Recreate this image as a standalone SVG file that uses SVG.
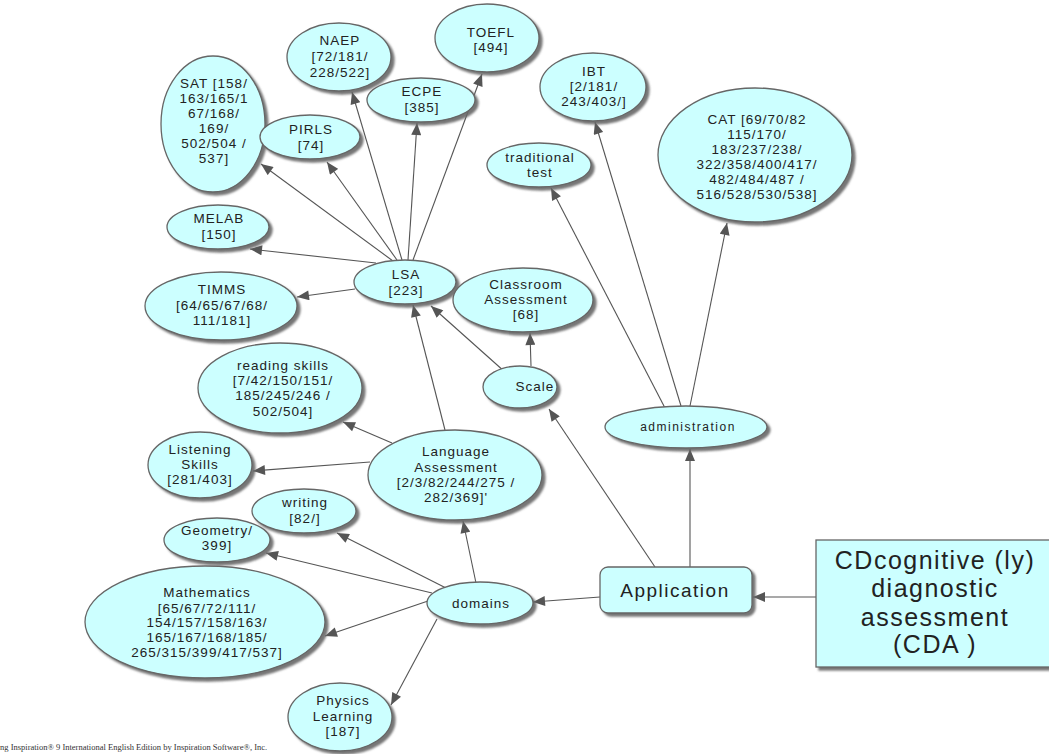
<svg xmlns="http://www.w3.org/2000/svg" width="1049" height="754" viewBox="0 0 1049 754">
<defs>
<filter id="sh" x="-10%" y="-10%" width="125%" height="125%">
<feDropShadow dx="3" dy="3" stdDeviation="0.8" flood-color="#666" flood-opacity="0.9"/>
</filter>
<marker id="a" viewBox="0 0 12 10" refX="12" refY="5" markerWidth="13" markerHeight="10" markerUnits="userSpaceOnUse" orient="auto">
<path d="M0,0 L12,5 L0,10 z" fill="#555"/>
</marker>
</defs>
<style>
.n{fill:#ccffff;stroke:#666;stroke-width:1.3;filter:url(#sh)}
.t{font-family:"Liberation Sans",Arial,sans-serif;font-size:13.5px;letter-spacing:1px;fill:#222;text-anchor:middle}
.c line{stroke:#555;stroke-width:1.1;marker-end:url(#a)}
</style>
<rect width="1049" height="754" fill="#fff"/>
<g class="c" id="connectors">
<line x1="393" y1="261" x2="261" y2="164"/>
<line x1="397" y1="260" x2="327" y2="162"/>
<line x1="402" y1="260" x2="352" y2="92"/>
<line x1="408" y1="260" x2="417" y2="123"/>
<line x1="413" y1="260" x2="482" y2="74"/>
<line x1="376" y1="263" x2="250" y2="249"/>
<line x1="355" y1="289" x2="297" y2="297"/>
<line x1="445" y1="430" x2="413" y2="305"/>
<line x1="505" y1="372" x2="431" y2="306"/>
<line x1="531" y1="366" x2="530" y2="333"/>
<line x1="655" y1="567" x2="549" y2="409"/>
<line x1="665" y1="408" x2="551" y2="188"/>
<line x1="681" y1="406" x2="595" y2="122"/>
<line x1="690" y1="406" x2="727" y2="223"/>
<line x1="690" y1="567" x2="690" y2="449"/>
<line x1="816" y1="597" x2="753" y2="597"/>
<line x1="600" y1="597" x2="533" y2="602"/>
<line x1="476" y1="583" x2="463" y2="521"/>
<line x1="446" y1="588" x2="337" y2="533"/>
<line x1="432" y1="593" x2="266" y2="553"/>
<line x1="428" y1="601" x2="325" y2="636"/>
<line x1="437" y1="619" x2="391" y2="705"/>
<line x1="392" y1="443" x2="343" y2="422"/>
<line x1="370" y1="462" x2="253" y2="471"/>
</g>
<g id="sat"><ellipse class="n" cx="213" cy="124" rx="52" ry="68"/>
<text class="t"><tspan x="214" y="88">SAT [158/</tspan><tspan x="214" y="103">163/165/1</tspan><tspan x="214" y="118">67/168/</tspan><tspan x="214" y="133">169/</tspan><tspan x="214" y="148">502/504 /</tspan><tspan x="214" y="163">537]</tspan></text></g>
<g id="naep"><ellipse class="n" cx="339" cy="57" rx="52" ry="34"/>
<text class="t"><tspan x="340" y="45">NAEP</tspan><tspan x="340" y="61">[72/181/</tspan><tspan x="340" y="77">228/522]</tspan></text></g>
<g id="toefl"><ellipse class="n" cx="487" cy="38" rx="52" ry="34"/>
<text class="t"><tspan x="491" y="37">TOEFL</tspan><tspan x="491" y="52">[494]</tspan></text></g>
<g id="ecpe"><ellipse class="n" cx="421" cy="100" rx="54" ry="22"/>
<text class="t"><tspan x="422" y="96">ECPE</tspan><tspan x="422" y="112">[385]</tspan></text></g>
<g id="pirls"><ellipse class="n" cx="310" cy="137" rx="50" ry="22"/>
<text class="t"><tspan x="311" y="134">PIRLS</tspan><tspan x="311" y="150">[74]</tspan></text></g>
<g id="ibt"><ellipse class="n" cx="593" cy="87" rx="53" ry="34"/>
<text class="t"><tspan x="594" y="76">IBT</tspan><tspan x="594" y="91">[2/181/</tspan><tspan x="594" y="106">243/403/]</tspan></text></g>
<g id="trad"><ellipse class="n" cx="539" cy="165" rx="52" ry="22"/>
<text class="t"><tspan x="540" y="162">traditional</tspan><tspan x="540" y="177">test</tspan></text></g>
<g id="cat"><ellipse class="n" cx="755" cy="155" rx="97" ry="67"/>
<text class="t"><tspan x="757" y="124">CAT [69/70/82</tspan><tspan x="757" y="139">115/170/</tspan><tspan x="757" y="154">183/237/238/</tspan><tspan x="757" y="169">322/358/400/417/</tspan><tspan x="757" y="184">482/484/487 /</tspan><tspan x="757" y="199">516/528/530/538]</tspan></text></g>
<g id="melab"><ellipse class="n" cx="218" cy="227" rx="51" ry="22"/>
<text class="t"><tspan x="219" y="223">MELAB</tspan><tspan x="219" y="239">[150]</tspan></text></g>
<g id="lsa"><ellipse class="n" cx="405" cy="282" rx="51" ry="22"/>
<text class="t"><tspan x="406" y="279">LSA</tspan><tspan x="406" y="295">[223]</tspan></text></g>
<g id="timms"><ellipse class="n" cx="221" cy="306" rx="76" ry="34"/>
<text class="t"><tspan x="222" y="294">TIMMS</tspan><tspan x="222" y="310">[64/65/67/68/</tspan><tspan x="222" y="325">111/181]</tspan></text></g>
<g id="classroom"><ellipse class="n" cx="523" cy="300" rx="70" ry="32"/>
<text class="t"><tspan x="526" y="289">Classroom</tspan><tspan x="526" y="304">Assessment</tspan><tspan x="526" y="319">[68]</tspan></text></g>
<g id="reading"><ellipse class="n" cx="280" cy="388" rx="82" ry="45"/>
<text class="t"><tspan x="283" y="370">reading skills</tspan><tspan x="283" y="385">[7/42/150/151/</tspan><tspan x="283" y="400">185/245/246 /</tspan><tspan x="283" y="416">502/504]</tspan></text></g>
<g id="scale"><ellipse class="n" cx="520" cy="387" rx="37" ry="21"/>
<text class="t"><tspan x="535" y="391">Scale</tspan></text></g>
<g id="listening"><ellipse class="n" cx="200" cy="465" rx="52" ry="33"/>
<text class="t"><tspan x="200" y="454">Listening</tspan><tspan x="200" y="469">Skills</tspan><tspan x="200" y="484">[281/403]</tspan></text></g>
<g id="language"><ellipse class="n" cx="455" cy="475" rx="87" ry="45"/>
<text class="t"><tspan x="456" y="456">Language</tspan><tspan x="456" y="472">Assessment</tspan><tspan x="456" y="487">[2/3/82/244/275 /</tspan><tspan x="456" y="502">282/369]'</tspan></text></g>
<g id="writing"><ellipse class="n" cx="304" cy="511" rx="52" ry="22"/>
<text class="t"><tspan x="305" y="507">writing</tspan><tspan x="305" y="523">[82/]</tspan></text></g>
<g id="geometry"><ellipse class="n" cx="217" cy="540" rx="53" ry="22"/>
<text class="t"><tspan x="217" y="535">Geometry/</tspan><tspan x="217" y="550">399]</tspan></text></g>
<g id="math"><ellipse class="n" cx="205" cy="622" rx="120" ry="56"/>
<text class="t"><tspan x="207" y="597">Mathematics</tspan><tspan x="207" y="613">[65/67/72/111/</tspan><tspan x="207" y="627">154/157/158/163/</tspan><tspan x="207" y="642">165/167/168/185/</tspan><tspan x="207" y="657">265/315/399/417/537]</tspan></text></g>
<g id="domains"><ellipse class="n" cx="480" cy="603" rx="53" ry="21"/>
<text class="t"><tspan x="481" y="608">domains</tspan></text></g>
<g id="physics"><ellipse class="n" cx="340" cy="717" rx="52" ry="34"/>
<text class="t"><tspan x="343" y="705">Physics</tspan><tspan x="343" y="721">Learning</tspan><tspan x="343" y="736">[187]</tspan></text></g>
<g id="administration"><ellipse class="n" cx="686" cy="427" rx="81" ry="21"/>
<text class="t" style="font-size:12px;letter-spacing:1.5px"><tspan x="688" y="431">administration</tspan></text></g>
<g id="application"><rect class="n" x="600" y="567" width="152" height="46" rx="8"/>
<text class="t" style="font-size:19px;letter-spacing:1.5px"><tspan x="675" y="597">Application</tspan></text></g>
<g id="cda"><rect class="n" x="816" y="540" width="236" height="127"/>
<text class="t" style="font-size:25px;letter-spacing:1.5px"><tspan x="935" y="569">CDcognitive (ly)</tspan><tspan x="935" y="597">diagnostic</tspan><tspan x="935" y="626">assessment</tspan><tspan x="935" y="653">(CDA )</tspan></text></g>
<text x="0" y="750" style="font-family:'Liberation Serif',serif;font-size:8.5px;fill:#333">ng Inspiration® 9 International English Edition by Inspiration Software®, Inc.</text>
</svg>
